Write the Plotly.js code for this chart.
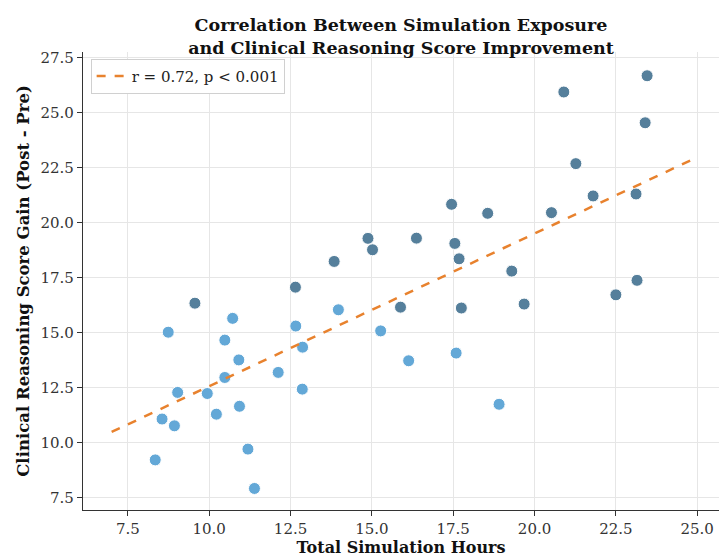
<!DOCTYPE html>
<html>
<head>
<meta charset="utf-8">
<script src="https://cdn.plot.ly/plotly-3.0.1.min.js"></script>
<style>html,body{margin:0;padding:0;background:#fff;}#chart{width:719px;height:557px;}</style>
</head>
<body>
<div id="chart"></div>
<script>
// Group A (lighter points)
const hoursA = [8.74, 10.72, 13.97, 12.66, 15.27, 10.48, 12.87, 10.91, 16.13, 12.12, 10.48, 9.03, 9.94, 12.86, 10.93, 10.22, 8.55, 8.93, 11.19, 8.34, 11.39, 17.59, 18.91];
const gainA  = [15.02, 15.65, 16.04, 15.30, 15.08, 14.66, 14.34, 13.76, 13.72, 13.19, 12.96, 12.28, 12.23, 12.43, 11.65, 11.29, 11.07, 10.76, 9.70, 9.21, 7.91, 14.07, 11.74];
// Group B (darker points)
const hoursB = [23.46, 20.90, 23.40, 21.27, 21.80, 23.12, 17.45, 18.56, 20.52, 16.37, 17.55, 17.68, 19.30, 23.15, 22.50, 14.88, 15.02, 13.84, 12.65, 9.56, 15.88, 17.75, 19.68];
const gainB  = [26.69, 25.95, 24.55, 22.69, 21.22, 21.31, 20.84, 20.43, 20.46, 19.30, 19.06, 18.36, 17.80, 17.38, 16.72, 19.29, 18.77, 18.24, 17.07, 16.34, 16.16, 16.12, 16.30];
// Regression line endpoints
const fitX = [7.0, 25.0];
const fitY = [10.48, 22.98];
const fitLabel = "r = 0.72, p < 0.001";

const serif = "DejaVu Serif, serif";

const traces = [
  {x: hoursA, y: gainA, type: "scatter", mode: "markers", showlegend: false,
   marker: {size: 12, color: "#63a8d7", line: {color: "#ffffff", width: 1}}, hoverinfo: "x+y"},
  {x: hoursB, y: gainB, type: "scatter", mode: "markers", showlegend: false,
   marker: {size: 12, color: "#557f9b", line: {color: "#ffffff", width: 1}}, hoverinfo: "x+y"},
  {x: fitX, y: fitY, type: "scatter", mode: "lines", name: fitLabel,
   line: {color: "#e8822e", width: 2.5, dash: "dash"}}
];

const layout = {
  width: 719, height: 557,
  margin: {l: 83, r: 0, t: 52, b: 47},
  paper_bgcolor: "#ffffff", plot_bgcolor: "#ffffff",
  font: {family: serif, size: 15, color: "#222"},
  title: {text: "<b>Correlation Between Simulation Exposure<br>and Clinical Reasoning Score Improvement</b>",
          x: 0.5, xref: "paper", y: 1 - 31/557, yref: "container", yanchor: "middle",
          font: {family: serif, size: 17.5, color: "#111"}},
  xaxis: {range: [6.12, 25.67], tickvals: [7.5, 10, 12.5, 15, 17.5, 20, 22.5, 25],
          ticktext: ["7.5", "10.0", "12.5", "15.0", "17.5", "20.0", "22.5", "25.0"],
          showgrid: true, gridcolor: "#e6e6e6", gridwidth: 1, zeroline: false,
          showline: true, linecolor: "#333", linewidth: 1.2, ticks: "outside", ticklen: 5, tickcolor: "#333",
          tickfont: {family: serif, size: 15, color: "#333"},
          title: {text: "<b>Total Simulation Hours</b>", standoff: 3, font: {family: serif, size: 16, color: "#111"}}},
  yaxis: {range: [6.93, 27.77], tickvals: [7.5, 10, 12.5, 15, 17.5, 20, 22.5, 25, 27.5],
          ticktext: ["7.5", "10.0", "12.5", "15.0", "17.5", "20.0", "22.5", "25.0", "27.5"],
          showgrid: true, gridcolor: "#e6e6e6", gridwidth: 1, zeroline: false,
          showline: true, linecolor: "#333", linewidth: 1.2, ticks: "outside", ticklen: 5, tickcolor: "#333",
          tickfont: {family: serif, size: 15, color: "#333"},
          title: {text: "<b>Clinical Reasoning Score Gain (Post - Pre)</b>", standoff: 6, font: {family: serif, size: 16.5, color: "#111"}}},
  legend: {x: 0.012, y: 0.985, xanchor: "left", yanchor: "top", bgcolor: "#ffffff",
           bordercolor: "#d0d0d0", borderwidth: 1, font: {family: serif, size: 15, color: "#222"}},
  hovermode: "closest"
};

Plotly.newPlot("chart", traces, layout, {displayModeBar: false, staticPlot: true});
</script>
</body>
</html>
